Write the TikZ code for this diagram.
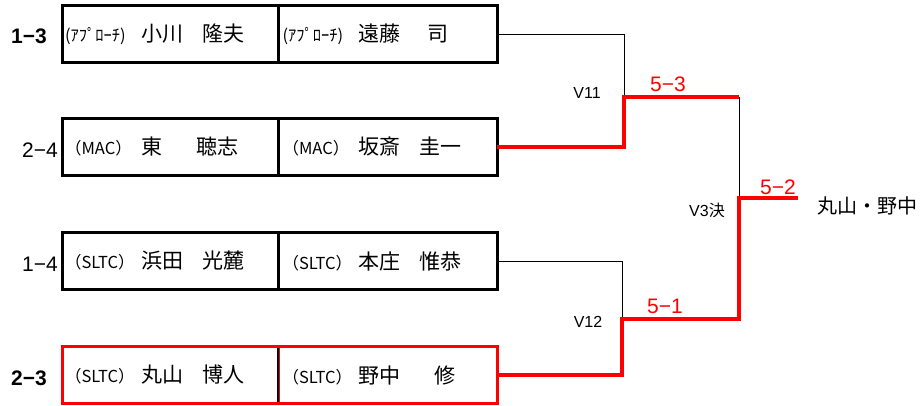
\documentclass[tikz,border=0pt]{standalone}
\usepackage{fontspec}
\setmainfont{Liberation Sans}
\newfontfamily\jp{Noto Sans CJK JP}
\usetikzlibrary{positioning}
\newcommand{\entry}[2]{\makebox[210pt][l]{\makebox[76pt][l]{\fontsize{16.5pt}{16.5pt}\selectfont #1}#2}}
\tikzset{%
    half/.style={%
        draw, line width=3pt, outer sep=0pt, inner xsep=3pt, inner ysep=0pt,
        minimum width=216pt, minimum height=57pt,
        font=\fontsize{21pt}{21pt}\selectfont\jp
    },
    seed/.style={%
        anchor=east, inner sep=0pt, font=\fontsize{21pt}{21pt}\selectfont
    },
    seedb/.style={%
        seed, font=\fontsize{21pt}{21pt}\selectfont\bfseries
    },
    score/.style={%
        text=red, inner sep=0pt, font=\fontsize{21pt}{21pt}\selectfont
    },
    vlab/.style={%
        inner sep=0pt, font=\fontsize{16pt}{16pt}\selectfont
    },
    lose/.style={%
        draw=black, line width=1pt
    },
    win/.style={%
        draw=red, line width=4pt
    }
}
\begin{document}
\begin{tikzpicture}[x=1pt, y=-1pt]
    \useasboundingbox (0,0) rectangle (920,405);

    \node[half] (a1) at (170,34) {\entry{(ｱﾌﾟﾛｰﾁ)}{小川\hspace{20pt}隆夫}};
    \node[half, minimum width=219pt, right=0pt of a1] (b1) {\entry{(ｱﾌﾟﾛｰﾁ)}{遠藤\hspace{27pt}司}};
    \node[half] (a2) at (170,147) {\entry{（MAC）}{東\hspace{34pt}聴志}};
    \node[half, minimum width=219pt, right=0pt of a2] (b2) {\entry{（MAC）}{坂斎\hspace{19pt}圭一}};
    \node[half] (a3) at (170,261) {\entry{（SLTC）}{浜田\hspace{20pt}光麓}};
    \node[half, minimum width=219pt, right=0pt of a3] (b3) {\entry{（SLTC）}{本庄\hspace{19pt}惟恭}};
    \node[half, draw=red] (a4) at (170,375) {\entry{（SLTC）}{丸山\hspace{20pt}博人}};
    \node[half, draw=red, minimum width=219pt, right=0pt of a4] (b4) {\entry{（SLTC）}{野中\hspace{34pt}修}};
    \draw[line width=2pt, shorten <=1.5pt, shorten >=1.5pt] (a4.north east) -- (a4.south east);

    \node[seedb] (e1) at (47,36) {1−3};
    \node[seed] (e2) at (58,150) {2−4};
    \node[seed] (e3) at (58,264) {1−4};
    \node[seedb] (e4) at (47,378) {2−3};

    \coordinate (m11) at (624,97);
    \coordinate (f1) at (739,97);
    \coordinate (m12) at (622,319);
    \coordinate (f2) at (739,319);
    \coordinate (m3) at (739,198);
    \coordinate (w) at (798,198);

    \draw[lose] (b1.east) -| (m11);
    \draw[lose] (f1) -- (m3);
    \draw[lose] (b3.east) -| (m12);
    \draw[win] (b2.east) -| (m11) -- (f1);
    \draw[win] (b4.east) -| (m12) -- (f2) -- (m3) -- (w);

    \node[vlab] (v11) at (587,93) {V11};
    \node[vlab] (v12) at (588,322) {V12};
    \node[vlab] (v3) at (707,210) {V3{\jp 決}};
    \node[score] (s11) at (668,84) {5−3};
    \node[score] (s12) at (665,306) {5−1};
    \node[score] (s3) at (778,187) {5−2};
    \node[anchor=west, inner sep=0pt, font=\fontsize{20pt}{20pt}\selectfont\jp] (champ) at (817,206) {丸山・野中};
\end{tikzpicture}
\end{document}
